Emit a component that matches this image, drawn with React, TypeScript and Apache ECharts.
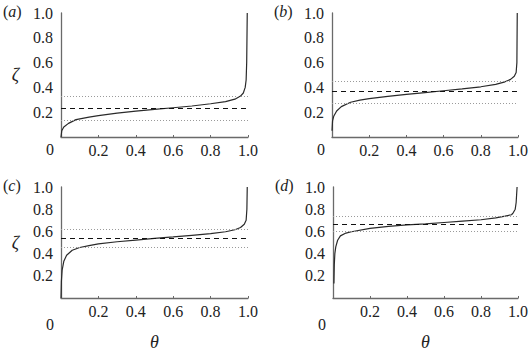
import React, { useEffect, useRef } from "react";
import * as echarts from "echarts";

// Sorted profiles ζ(θ) for the four cases
const thetaA = [0, 0.004, 0.015, 0.04, 0.08, 0.15, 0.2, 0.3, 0.4, 0.5, 0.6, 0.7, 0.8, 0.88, 0.93, 0.96, 0.975, 0.985, 0.99, 0.993, 0.996];
const zetaA = [0, 0.05, 0.08, 0.11, 0.14, 0.16, 0.172, 0.192, 0.208, 0.222, 0.236, 0.25, 0.268, 0.285, 0.305, 0.33, 0.355, 0.4, 0.46, 0.6, 1.0];

const thetaB = [0, 0.003, 0.01, 0.025, 0.05, 0.1, 0.15, 0.2, 0.3, 0.4, 0.5, 0.6, 0.7, 0.8, 0.88, 0.93, 0.96, 0.98, 0.99, 0.994, 0.996];
const zetaB = [0.05, 0.13, 0.17, 0.21, 0.245, 0.28, 0.297, 0.31, 0.328, 0.343, 0.358, 0.373, 0.388, 0.405, 0.425, 0.445, 0.465, 0.49, 0.52, 0.6, 1.0];

const thetaC = [0, 0.002, 0.006, 0.015, 0.03, 0.06, 0.1, 0.15, 0.2, 0.3, 0.4, 0.5, 0.6, 0.7, 0.8, 0.88, 0.93, 0.96, 0.98, 0.99, 0.994, 0.996];
const zetaC = [0, 0.15, 0.25, 0.33, 0.385, 0.43, 0.455, 0.472, 0.487, 0.507, 0.522, 0.537, 0.55, 0.565, 0.58, 0.597, 0.615, 0.635, 0.665, 0.7, 0.8, 1.0];

const thetaD = [0.005, 0.007, 0.01, 0.015, 0.025, 0.04, 0.07, 0.1, 0.2, 0.3, 0.4, 0.5, 0.6, 0.7, 0.8, 0.88, 0.93, 0.965, 0.975, 0.985, 0.99, 0.995];
const zetaD = [0.13, 0.3, 0.4, 0.46, 0.52, 0.56, 0.585, 0.597, 0.628, 0.645, 0.658, 0.668, 0.68, 0.693, 0.705, 0.722, 0.738, 0.75, 0.77, 0.8, 0.86, 1.0];

// Mean level (dashed) and spread bounds (dotted) per panel
const meanZeta = [0.23, 0.37, 0.54, 0.667];
const lowerZeta = [0.135, 0.275, 0.46, 0.6];
const upperZeta = [0.325, 0.451, 0.62, 0.733];

const panelLetters = ["a", "b", "c", "d"];
const axisTicks = [0, 0.2, 0.4, 0.6, 0.8, 1.0];

const FONT = "Times New Roman, Liberation Serif, serif";
const FS = 16;

const grids = [
  { left: 61, top: 13, width: 187, height: 124 },
  { left: 332, top: 13, width: 187, height: 124 },
  { left: 61, top: 187, width: 187, height: 125 },
  { left: 333, top: 187, width: 186, height: 125 },
];

export default function App() {
  const ref = useRef<HTMLDivElement>(null);

  useEffect(() => {
    document.body.style.margin = "0";
    if (!ref.current) return;
    const chart = echarts.init(ref.current, null, { renderer: "svg" });

    const curves = [
      [thetaA, zetaA],
      [thetaB, zetaB],
      [thetaC, zetaC],
      [thetaD, zetaD],
    ];

    const axisColor = "#6a6a6a";

    const xAxis = grids.map((_, i) => ({
      type: "value",
      gridIndex: i,
      min: axisTicks[0],
      max: axisTicks[axisTicks.length - 1],
      interval: 0.2,
      name: i >= 2 ? "θ" : "",
      nameLocation: "middle",
      nameGap: 35,
      nameTextStyle: { fontFamily: FONT, fontSize: 18, fontStyle: "italic", color: "#222" },
      axisLine: { show: true, lineStyle: { color: axisColor, width: 1.3 } },
      axisTick: { show: true, inside: true, length: 2, lineStyle: { color: axisColor } },
      splitLine: { show: false },
      axisLabel: {
        margin: 5,
        fontFamily: FONT,
        fontSize: FS,
        color: "#222",
        formatter: (v: number) => (v === 0 ? "" : v.toFixed(1)),
      },
    }));

    const yAxis = grids.map((_, i) => ({
      type: "value",
      gridIndex: i,
      min: axisTicks[0],
      max: axisTicks[axisTicks.length - 1],
      interval: 0.2,
      name: i % 2 === 0 ? "ζ" : "",
      nameLocation: "middle",
      nameRotate: 0,
      nameGap: 42,
      nameTextStyle: {
        fontFamily: FONT,
        fontSize: 18,
        fontStyle: "italic",
        color: "#222",
        padding: [10, 0, 0, 0],
      },
      axisLine: { show: true, lineStyle: { color: axisColor, width: 1.3 } },
      axisTick: { show: false },
      splitLine: { show: false },
      axisLabel: {
        margin: 8,
        fontFamily: FONT,
        fontSize: FS,
        color: "#222",
        formatter: (v: number) => (v === 0 ? "" : v.toFixed(1)),
      },
    }));

    const series: any[] = [];
    curves.forEach(([th, ze], i) => {
      series.push({
        type: "line",
        xAxisIndex: i,
        yAxisIndex: i,
        data: th.map((t, k) => [t, ze[k]]),
        showSymbol: false,
        smooth: false,
        lineStyle: { color: "#2a2a2a", width: 1.2 },
        z: 3,
      });
      // dotted spread bounds
      series.push({
        type: "line",
        xAxisIndex: i,
        yAxisIndex: i,
        data: [],
        markLine: {
          silent: true,
          symbol: "none",
          label: { show: false },
          lineStyle: { color: "#9a9a9a", type: [1, 2], width: 1 },
          data: [
            [{ coord: [0, lowerZeta[i]] }, { coord: [1, lowerZeta[i]] }],
            [{ coord: [0, upperZeta[i]] }, { coord: [1, upperZeta[i]] }],
          ],
        },
      });
      // dashed mean level
      series.push({
        type: "line",
        xAxisIndex: i,
        yAxisIndex: i,
        data: [],
        markLine: {
          silent: true,
          symbol: "none",
          label: { show: false },
          lineStyle: { color: "#111", type: [5, 4], width: 1.2 },
          data: [[{ coord: [0, meanZeta[i]] }, { coord: [1, meanZeta[i]] }]],
        },
      });
    });

    const graphic: any[] = [];
    grids.forEach((g, i) => {
      graphic.push({
        type: "text",
        left: g.left - 58,
        top: g.top - 10,
        style: {
          text: "({i|" + panelLetters[i] + "})",
          fontFamily: FONT,
          fontSize: FS,
          fill: "#222",
          rich: { i: { fontFamily: FONT, fontSize: FS, fontStyle: "italic", color: "#222" } },
        },
      });
      graphic.push({
        type: "text",
        x: g.left - 11,
        y: g.top + g.height + 12,
        style: {
          text: "0",
          fontFamily: FONT,
          fontSize: FS,
          fill: "#222",
          align: "center",
          verticalAlign: "middle",
        },
      });
    });

    chart.setOption({
      animation: false,
      backgroundColor: "#fff",
      grid: grids.map((g) => ({ ...g, containLabel: false })),
      xAxis,
      yAxis,
      series,
      graphic,
    });

    return () => chart.dispose();
  }, []);

  return <div ref={ref} style={{ width: 531, height: 352 }} />;
}
